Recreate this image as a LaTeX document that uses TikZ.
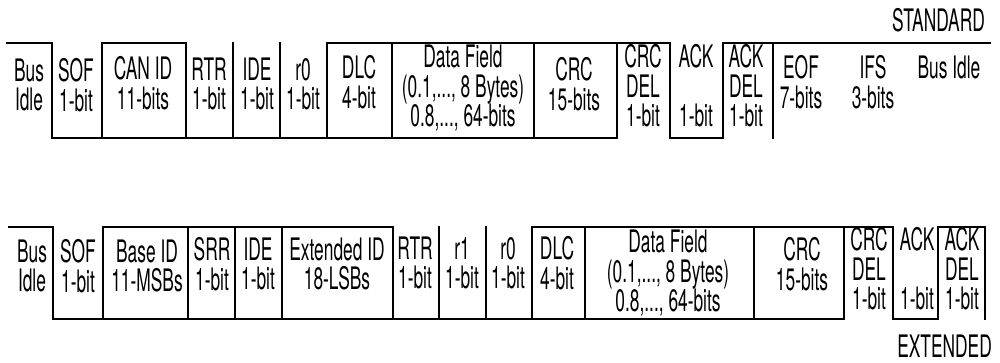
\documentclass[tikz,border=0pt]{standalone}
\usepackage{fontspec}
\setmainfont{TeX Gyre Heros}[FakeStretch=0.56]
\begin{document}
\begin{tikzpicture}[x=1pt,y=-1pt,
  wave/.style={line width=2pt, line cap=rect},
  lbl/.style={inner sep=0pt, align=center, font=\fontsize{31}{29.5}\selectfont}]
\useasboundingbox (0,0) rectangle (1000,362);
% ---------- STANDARD frame ----------
\draw[wave] (7,43) -- (52,43);
\draw[wave] (102,43) -- (186,43);
\draw[wave] (327,43) -- (670,43);
\draw[wave] (723,43) -- (990,43);
\draw[wave] (52,138) -- (617,138);
\draw[wave] (670,138) -- (723,138);
\foreach \x in {52,102,186,233,280,327,392,534,617,670,723,773}
  \draw[wave] (\x,43) -- (\x,138);
\node[lbl] (sbus)  at (29,85)  {Bus\\Idle};
\node[lbl] (ssof)  at (76,85)  {SOF\\1-bit};
\node[lbl] (sid)   at (143,83) {CAN ID\\11-bits};
\node[lbl] (srtr)  at (209,84) {RTR\\1-bit};
\node[lbl] (side)  at (257,84) {IDE\\1-bit};
\node[lbl] (sr0)   at (303,84) {r0\\1-bit};
\node[lbl] (sdlc)  at (359,82) {DLC\\4-bit};
\node[lbl] (sdata) at (463,88) {Data Field\\(0.1,..., 8 Bytes)\\0.8,..., 64-bits};
\node[lbl] (scrc)  at (574,84) {CRC\\15-bits};
\node[lbl] (scrcd) at (643,86) {CRC\\DEL\\1-bit};
\node[lbl] (sack)  at (696,86) {ACK\\[29.5pt]1-bit};
\node[lbl] (sackd) at (746,86) {ACK\\DEL\\1-bit};
\node[lbl] (seof)  at (801,82) {EOF\\7-bits};
\node[lbl] (sifs)  at (873,82) {IFS\\3-bits};
\node[lbl] (sidle) at (949,67) {Bus Idle};
\node[lbl, anchor=east] (std) at (985,20) {STANDARD};
% ---------- EXTENDED frame ----------
\draw[wave] (9,227) -- (53,227);
\draw[wave] (103,227) -- (393,227);
\draw[wave] (532,227) -- (893,227);
\draw[wave] (938,227) -- (985,227);
\draw[wave] (53,319) -- (844,319);
\draw[wave] (893,319) -- (938,319);
\foreach \x in {53,103,188,235,282,393,439,486,532,585,754,844,893,938,985}
  \draw[wave] (\x,227) -- (\x,319);
\node[lbl] (ebus)  at (32,266)  {Bus\\Idle};
\node[lbl] (esof)  at (78,266)  {SOF\\1-bit};
\node[lbl] (ebid)  at (147,266) {Base ID\\11-MSBs};
\node[lbl] (esrr)  at (212,264) {SRR\\1-bit};
\node[lbl] (eide)  at (258,264) {IDE\\1-bit};
\node[lbl] (eeid)  at (337,264) {Extended ID\\18-LSBs};
\node[lbl] (ertr)  at (415,263) {RTR\\1-bit};
\node[lbl] (er1)   at (462,263) {r1\\1-bit};
\node[lbl] (er0)   at (508,263) {r0\\1-bit};
\node[lbl] (edlc)  at (557,263) {DLC\\4-bit};
\node[lbl] (edata) at (668,273) {Data Field\\(0.1,..., 8 Bytes)\\0.8,..., 64-bits};
\node[lbl] (ecrc)  at (802,264) {CRC\\15-bits};
\node[lbl] (ecrcd) at (869,269) {CRC\\DEL\\1-bit};
\node[lbl] (eack)  at (917,269) {ACK\\[29.5pt]1-bit};
\node[lbl] (eackd) at (962,269) {ACK\\DEL\\1-bit};
\node[lbl, anchor=east] (ext) at (992,346) {EXTENDED};
\end{tikzpicture}
\end{document}
